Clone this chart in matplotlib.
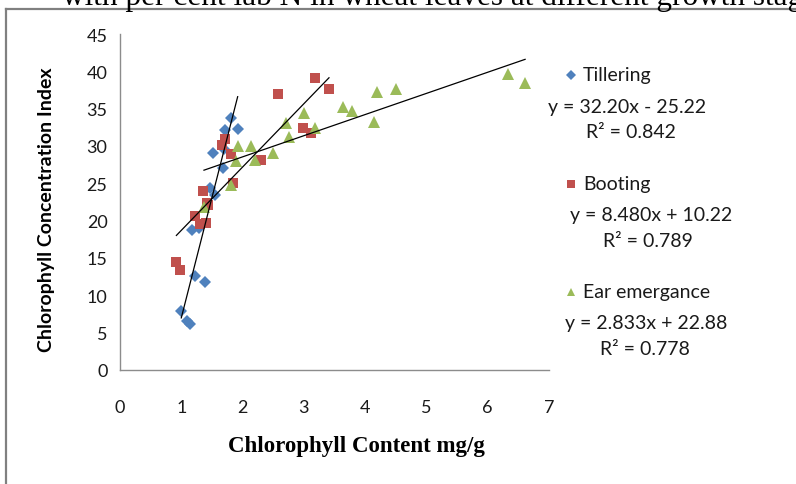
import matplotlib
matplotlib.use("Agg")
import matplotlib.pyplot as plt
from matplotlib.lines import Line2D
import numpy as np

# ---- data -------------------------------------------------------------
stages = ["Tillering", "Booting", "Ear emergance"]

till_x = [1.00, 1.10, 1.15, 1.17, 1.29, 1.23, 1.38, 1.47, 1.55, 1.51,
          1.70, 1.68, 1.72, 1.81, 1.92]
till_y = [7.9, 6.6, 6.2, 18.7, 19.0, 12.6, 11.8, 24.4, 23.4, 29.1,
          29.6, 27.1, 32.2, 33.7, 32.3]

boot_x = [0.92, 0.98, 1.22, 1.31, 1.40, 1.35, 1.42, 1.44, 1.66, 1.71,
          1.81, 1.85, 2.30, 2.58, 2.99, 3.12, 3.18, 3.41]
boot_y = [14.4, 13.4, 20.6, 19.6, 19.7, 24.0, 22.4, 22.1, 30.2, 31.0,
          28.9, 25.0, 28.1, 36.9, 32.4, 31.7, 39.1, 37.6]

ear_x = [1.37, 1.81, 1.89, 1.93, 2.13, 2.20, 2.49, 2.71, 2.75, 3.00,
         3.18, 3.64, 3.78, 4.14, 4.19, 4.51, 6.33, 6.61]
ear_y = [21.8, 24.8, 28.0, 30.0, 30.0, 28.1, 29.1, 33.1, 31.2, 34.4,
         32.4, 35.2, 34.7, 33.2, 37.2, 37.6, 39.6, 38.4]

# linear trendlines: slope, intercept, R^2
slopes = [32.20, 8.480, 2.833]
intercepts = [-25.22, 10.22, 22.88]
r_squared = [0.842, 0.789, 0.778]

x_ticks = [0, 1, 2, 3, 4, 5, 6, 7]
y_ticks = [0, 5, 10, 15, 20, 25, 30, 35, 40, 45]

# ---- styling ----------------------------------------------------------
colors = ["#4F81BD", "#C0504D", "#9BBB59"]
markers = ["D", "s", "^"]
msizes = [6.2, 7.2, 8.0]
sans = ["Lato", "DejaVu Sans"]
serif = ["Liberation Serif", "DejaVu Serif"]

W, H = 796, 485
fig = plt.figure(figsize=(W / 100, H / 100), dpi=100)


def fx(px):
    return px / W


def fy(py):
    return 1 - py / H


ax = fig.add_axes([fx(120), fy(371), fx(549) - fx(120), (371 - 35) / H])
ax.set_xlim(0, 7)
ax.set_ylim(0, 45)

series = [(till_x, till_y), (boot_x, boot_y), (ear_x, ear_y)]
for (xs, ys), c, m, ms in zip(series, colors, markers, msizes):
    ax.plot(xs, ys, linestyle="none", marker=m, color=c, markersize=ms,
            markeredgewidth=0, zorder=3)

for (xs, ys), a, b in zip(series, slopes, intercepts):
    xl = np.array([min(xs), max(xs)])
    ax.plot(xl, a * xl + b, color="black", lw=0.9, zorder=4)

ax.set_xticks(x_ticks)
ax.set_yticks(y_ticks)
ax.tick_params(length=0, labelsize=13, colors="#1a1a1a")
ax.tick_params(axis="x", pad=21)
ax.tick_params(axis="y", pad=9)
for lab in ax.get_xticklabels() + ax.get_yticklabels():
    lab.set_family(sans)
for s in ["top", "right"]:
    ax.spines[s].set_visible(False)
for s in ["left", "bottom"]:
    ax.spines[s].set_color("#8c8c8c")
    ax.spines[s].set_linewidth(1.0)

fig.text(fx(47), fy(210), "Chlorophyll Concentration Index", rotation=90,
         ha="center", va="center", fontsize=14, fontweight="bold",
         family=sans)
fig.text(fx(356), fy(447), "Chlorophyll Content mg/g", ha="center",
         va="center", fontsize=16.5, fontweight="bold", family=serif)

# ---- legend with trendline equations ---------------------------------
def sig4(v):
    return f"{v:#.4g}"


eq_labels = []
for a, b in zip(slopes, intercepts):
    sign = "-" if b < 0 else "+"
    eq_labels.append(f"y = {sig4(a)}x {sign} {sig4(abs(b))}")
r2_labels = [f"R² = {r:.3f}" for r in r_squared]

entry_y = [76, 185, 293]
eq_cx = [627, 651, 646]
r2_cx = [631, 648, 645]
for i in range(3):
    y0 = entry_y[i]
    fig.add_artist(Line2D([fx(571)], [fy(y0)], marker=markers[i],
                          color=colors[i], markersize=msizes[i] * 0.75,
                          markeredgewidth=0, transform=fig.transFigure))
    fig.text(fx(583), fy(y0), stages[i], ha="left", va="center",
             fontsize=14, family=sans, color="#1a1a1a")
    fig.text(fx(eq_cx[i]), fy(y0 + 31), eq_labels[i], ha="center",
             va="center", fontsize=14, family=sans, color="#1a1a1a")
    fig.text(fx(r2_cx[i]), fy(y0 + 57), r2_labels[i], ha="center",
             va="center", fontsize=14, family=sans, color="#1a1a1a")

# ---- outer frame and caption above it --------------------------------
fig.add_artist(Line2D([fx(5.5), fx(5.5)], [0, fy(9.5)], color="#808080",
                      lw=1.6, transform=fig.transFigure))
fig.add_artist(Line2D([fx(5.5), 1], [fy(9.5), fy(9.5)], color="#808080",
                      lw=1.6, transform=fig.transFigure))
fig.text(fx(62), fy(5), "with per cent lab N in wheat leaves at different growth stages",
         ha="left", va="baseline", fontsize=22.5, family=serif, color="black")

fig.savefig("out.png", dpi=100)
